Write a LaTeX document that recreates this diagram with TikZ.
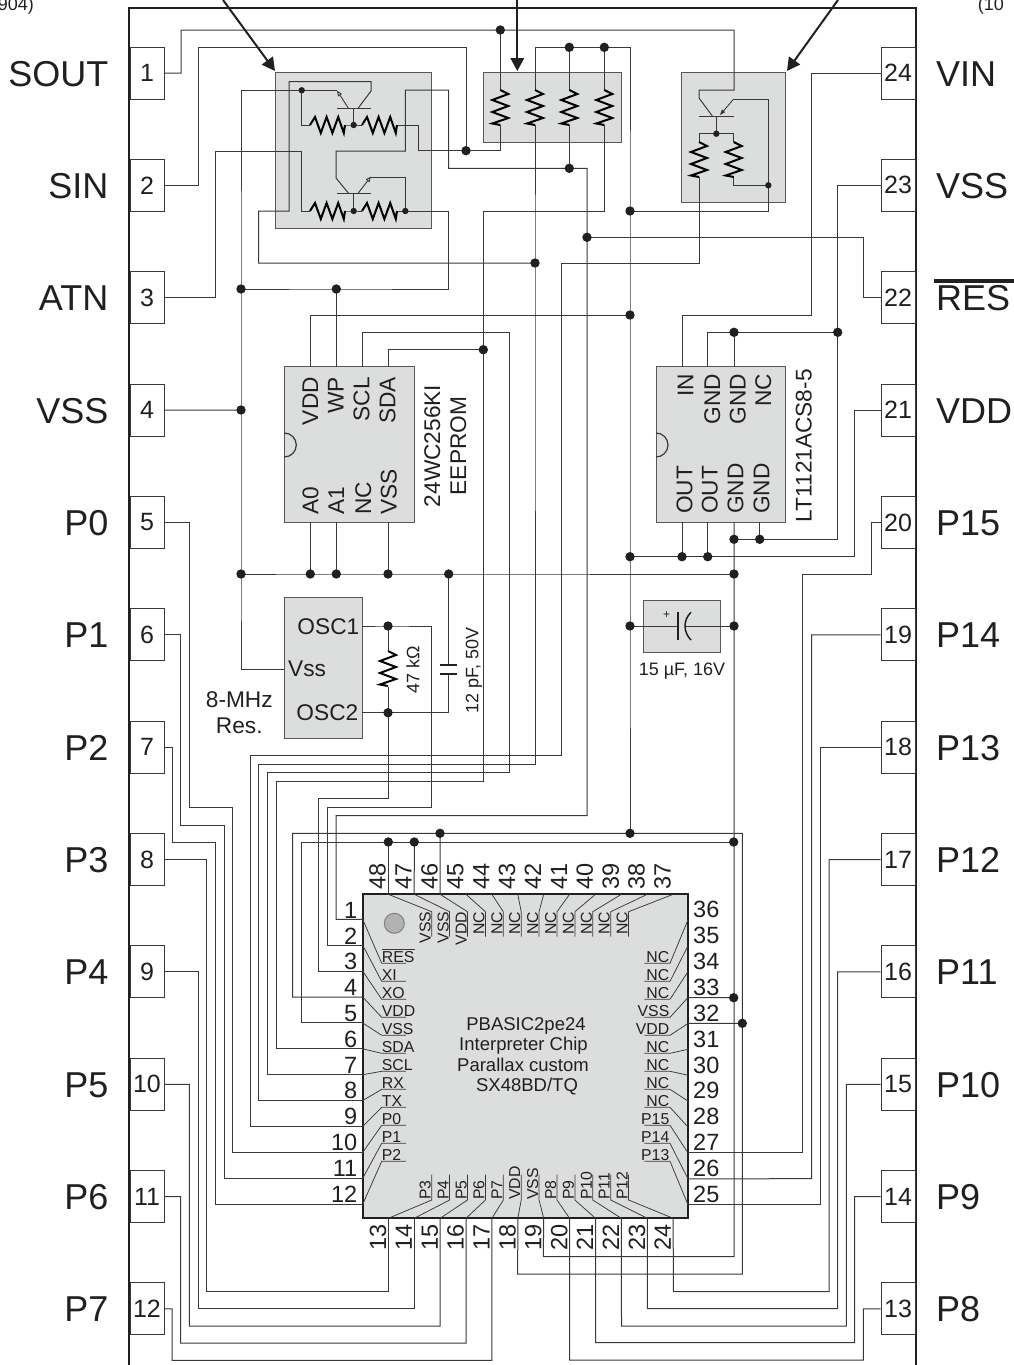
\documentclass[tikz,border=0pt]{standalone}
\usepackage{fontspec}
\setmainfont{Liberation Sans}
\usetikzlibrary{arrows.meta}
\definecolor{ink}{HTML}{231F20}
\definecolor{wirec}{HTML}{3A3838}
\definecolor{graybox}{HTML}{DCDDDD}
\newcommand{\fsz}[1]{\fontsize{#1}{#1}\selectfont}
\newcommand{\jn}[3]{\coordinate (#1) at (#2,#3);}
\newcommand{\hres}[2]{\draw[resist] (#1,#2) -- ++(5,-8) -- ++(5.8,16) -- ++(5.8,-16) -- ++(5.8,16) -- ++(5.8,-16) -- ++(5.6,16) -- ++(1.2,-8);}
\newcommand{\vres}[2]{\draw[resist] (#1,#2) -- ++(8,4) -- ++(-16,6) -- ++(16,6) -- ++(-16,6) -- ++(16,6) -- ++(-16,5.5) -- ++(8,1.5);}
\tikzset{
  wire/.style={draw=wirec,line width=1pt,line join=miter},
  thin wire/.style={draw=wirec,line width=.75pt},
  resist/.style={draw=black,line width=2pt,line join=miter},
  bigarrow/.style={draw=ink,line width=2pt,-{Triangle[length=13pt,width=13.5pt]}},
  emit/.style={draw=wirec,line width=.9pt,-{Triangle[open,length=5.5pt,width=4.5pt]}},
  gbox/.style={draw=wirec!85,fill=graybox,line width=1pt,inner sep=0pt},
  chipbox/.style={draw=ink,fill=graybox,line width=2.2pt,inner sep=0pt},
  pinbox/.style={draw=wirec,fill=white,line width=1pt,minimum width=34pt,minimum height=52pt,inner sep=0pt,text=ink,font=\fsz{25}},
  biglab/.style={inner sep=0pt,text=ink,font=\fsz{36}},
  icl/.style={inner sep=0pt,text=ink,font=\fsz{22.7}},
  cnum/.style={inner sep=0pt,text=ink,font=\fsz{23.5}},
  tiny/.style={inner sep=0pt,text=ink,font=\fsz{15.8}},
  midl/.style={inner sep=0pt,text=ink,font=\fsz{18}},
  corner/.style={inner sep=0pt,text=ink,font=\fsz{18}},
  bigdot/.style={fill=ink,draw=none},
}
\begin{document}
\begin{tikzpicture}[x=1pt,y=-1pt]
\useasboundingbox (0,0) rectangle (1014,1365);
% junctions
\jn{jp1}{500.3}{30}\jn{jp2}{466}{150.7}\jn{jv1}{569.3}{47.3}\jn{jv2}{604.3}{47.3}
\jn{jq}{569.3}{168.3}\jn{jr}{535}{263}\jn{js}{587}{237.3}\jn{jgt}{241}{289}\jn{jwp}{336.3}{289}
\jn{jt4}{241}{410}\jn{jvd}{630}{315}\jn{jsda}{483.3}{349.7}\jn{jg1}{734}{332.3}\jn{jg2}{837.7}{332.3}
\jn{jg3}{734}{539.3}\jn{jg4}{759.7}{539.3}\jn{jo0}{630}{556.7}\jn{jo1}{682}{556.7}\jn{jo2}{707.7}{556.7}
\jn{jb0}{241}{574}\jn{jb1}{310.3}{574}\jn{jb2}{336.3}{574}\jn{jb3}{388}{574}\jn{jb4}{448.7}{574}\jn{jb5}{734}{574}
\jn{jc1}{630}{626}\jn{jc2}{734}{626}\jn{jo3}{388}{626}\jn{jo4}{388}{712.7}\jn{jv}{630}{211}
\jn{jta}{440}{833.3}\jn{jtb}{630}{833.3}\jn{jua}{388.3}{842}\jn{jub}{414.3}{842}\jn{juc}{733.7}{842}
\jn{j33}{733.7}{997.7}\jn{j32}{742.3}{1023.3}
\jn{js1}{301.7}{90.3}\jn{js2}{353.7}{125}\jn{js3}{353.7}{211}\jn{js4}{405.3}{211}\jn{js5}{716.3}{133.7}\jn{js6}{768.3}{185.3}
% frame
\draw[draw=ink,line width=2.8pt] (129,1365) -- (129,8) -- (916,8) -- (916,1365);
% gray boxes
\node[gbox,minimum width=155.6pt,minimum height=156pt] (qa) at (353.5,150.7) {};
\node[gbox,minimum width=138.7pt,minimum height=69.6pt] (rp) at (552.35,107.5) {};
\node[gbox,minimum width=104pt,minimum height=130pt] (qb) at (733.7,137.7) {};
\node[gbox,minimum width=130pt,minimum height=155.6pt] (ee) at (349.3,444.5) {};
\node[gbox,minimum width=129.7pt,minimum height=155.6pt] (lt) at (720.85,444.5) {};
\node[gbox,minimum width=78pt,minimum height=141pt] (os) at (323.3,667.8) {};
\node[gbox,minimum width=77.7pt,minimum height=52pt] (cp) at (681.85,626) {};
\node[chipbox,minimum width=325.3pt,minimum height=324pt] (chip) at (525.35,1056.3) {};
\draw[draw=wirec,line width=1.2pt] (284.3,433) arc[start angle=90,end angle=-90,radius=12pt];
\draw[draw=wirec,line width=1.2pt] (656,433) arc[start angle=90,end angle=-90,radius=12pt];
\draw[draw=gray,fill=black!30,line width=1pt] (394.3,923.3) circle[radius=10pt];
% pin boxes
\foreach \n in {1,...,12}{\node[pinbox] (L\n) at (147,{73+112.36*(\n-1)}) {\n};}
\foreach \n in {13,...,24}{\node[pinbox] (R\n) at (898,{73+112.36*(24-\n)}) {\n};}
% chip pin coordinates
\foreach \n in {1,...,12}{\coordinate (c\n) at (362.7,{919.3+25.9*(\n-1)});}
\foreach \n in {13,...,24}{\coordinate (c\n) at ({388.3+25.9*(\n-13)},1218.3);}
\foreach \n in {25,...,36}{\coordinate (c\n) at (688,{1204.7-25.9*(\n-25)});}
\foreach \n in {37,...,48}{\coordinate (c\n) at ({388.3+25.9*(48-\n)},894.3);}
% wires
\draw[wire] (L1.east) -| (181,30) -- (jp1) -- (734,30) -- (734,90) -- (699,90) -- (699,98) -- (712.3,116);
\draw[wire] (jp1) -- (500.3,90);
\draw[wire] (500.3,125) -- (500.3,150.7) -- (jp2) -- (418.3,150.7) -- (418.3,125) -- (397,125);
\draw[wire] (L2.east) -| (198.3,47.3) -- (466,47.3) -- (jp2);
\draw[wire] (L3.east) -| (215.3,151) -- (301.7,151) -- (301.7,211) -- (310,211);
\draw[wire] (L4.east) -- (jt4);
\draw[wire] (L5.east) -| (189.3,807.3) -- (232.7,807.3) |- (c10);
\draw[wire] (L6.east) -| (180.7,825) -- (224,825) |- (c11);
\draw[wire] (L7.east) -| (172.7,842.3) -- (215.3,842.3) |- (c12);
\draw[wire] (L8.east) -| (206.7,1291) -- (388.3,1291) -- (c13);
\draw[wire] (L9.east) -| (198,1308.7) -- (414.2,1308.7) -- (c14);
\draw[wire] (L10.east) -| (189.3,1326) -- (440.1,1326) -- (c15);
\draw[wire] (L11.east) -| (180.7,1343) -- (466,1343) -- (c16);
\draw[wire] (L12.east) -| (172,1360.3) -- (491.9,1360.3) -- (c17);
\draw[wire] (c1) -| (336,815.7) -- (587,815.7) -- (js) -- (587,168.3) -- (jq) -- (448.7,168.3) -- (448.7,90) -- (405.3,90) -- (405.3,151) -- (336,151) -- (336,178) -- (348.3,193);
\draw[wire] (c2) -| (327.7,807.3) -- (431.5,807.3) -- (431.5,626) -- (jo3) -- (362.3,626);
\draw[wire] (c3) -| (318.7,798.7) -- (388,798.7) -- (jo4) -- (362.3,712.7);
\draw[wire] (c4) -| (292.7,833.3) -- (742.3,833.3) -- (j32) -- (742.3,1274) -- (517.7,1274) -- (c18);
\draw[wire] (c5) -| (301.7,842) -- (juc);
\draw[wire] (734,522.3) -- (jc2) -- (734,1256.7) -- (543.3,1256.7) -- (c19);
\draw[wire] (c6) -| (276,781.3) -- (483.3,781.3) -- (jsda) -- (483.3,211) -- (604.3,211) -- (604.3,125);
\draw[wire] (c7) -| (267.3,772.7) -- (509.3,772.7) -- (509.3,332.3) -- (362,332.3) -- (362,366.7);
\draw[wire] (c8) -| (258.7,764.3) -- (535,764.3) -- (jr) -- (535,125);
\draw[wire] (535,90) -- (535,47.3) -- (jv1) -- (jv2) -- (630,47.3) -- (jv) -- (jvd) -- (jo0) -- (jc1) -- (jtb);
\draw[wire] (c9) -| (250,755.7) -- (561,755.7) -- (561,263) -- (699,263) -- (699,177);
\draw[wire] (jv1) -- (569.3,90);
\draw[wire] (569.3,125) -- (jq);
\draw[wire] (jv2) -- (604.3,90);
\draw[wire] (jv) -- (768.3,211) -- (js6) -- (768.3,99) -- (733.7,99);
\draw[wire] (js6) -- (733.7,185.3) -- (733.7,177);
\draw[wire] (699,142) -- (699,133.7) -- (733.7,133.7) -- (733.7,142);
\draw[wire] (716.3,116) -- (js5);
\draw[wire] (699,116) -- (733.7,116);
\draw[emit,-{Triangle[length=5.5pt,width=4pt]}] (733.7,99) -- (720,115);
\draw[wire] (jvd) -- (310.3,315) -- (310.3,366.7);
\draw[wire] (241,90.3) -- (js1) -- (337,90.3);
\draw[wire] (241,90.3) -- (jgt) -- (jt4) -- (jb0) -- (241,669) -- (284.3,669);
\draw[wire] (js1) -- (301.7,125) -- (310,125);
\draw[wire] (345,125) -- (js2) -- (361.7,125);
\draw[wire] (345,211) -- (js3) -- (361.7,211);
\draw[wire] (397,211) -- (js4);
\draw[wire] (jgt) -- (jwp) -- (448.7,289) -- (448.7,211) -- (js4) -- (405.3,177) -- (371,177);
\draw[wire] (jwp) -- (336.3,366.7);
\draw[wire] (336.7,108) -- (370.7,108);
\draw[wire] (336.7,193) -- (370.7,193);
\draw[wire] (353.7,108) -- (js2);
\draw[wire] (353.7,193) -- (js3);
\draw[emit] (348.3,108) -- (337,90.6);
\draw[emit] (358.3,193) -- (371,176.5);
\draw[wire] (358.3,108) -- (371,91) -- (371,81.7) -- (289,81.7) -- (289,211) -- (258.7,211) -- (258.7,263) -- (jr);
\draw[wire] (jb0) -- (jb1) -- (jb2) -- (jb3) -- (jb4) -- (jb5);
\draw[wire] (310.3,522.3) -- (jb1);
\draw[wire] (336.3,522.3) -- (jb2);
\draw[wire] (388,522.3) -- (jb3);
\draw[wire] (jb4) -- (448.7,664);
\draw[wire] (448.7,674) -- (448.7,712.7) -- (jo4);
\draw[line width=2pt,draw=ink] (440,664.5) -- (457.3,664.5) (440,673.5) -- (457.3,673.5);
\draw[wire] (jo3) -- (388,650.7);
\draw[wire] (388,687) -- (jo4);
\draw[wire] (388,366.7) -- (388,349.7) -- (jsda);
\draw[wire] (R24.west) -| (811.3,315) -- (682,315) -- (682,366.7);
\draw[wire] (R23.west) -| (jg2) -- (837.7,539.3) -- (jg4) -- (jg3);
\draw[wire] (707.7,366.7) -- (707.7,332.3) -- (jg1) -- (jg2);
\draw[wire] (jg1) -- (734,366.7);
\draw[wire] (759.7,522.3) -- (jg4);
\draw[wire] (R22.west) -| (863.3,237.3) -- (js);
\draw[wire] (R21.west) -| (854.3,556.7) -- (jo2) -- (jo1) -- (jo0);
\draw[wire] (682,522.3) -- (jo1);
\draw[wire] (707.7,522.3) -- (jo2);
\draw[wire] (R20.west) -| (871.7,574) -- (802.7,574) |- (c27);
\draw[wire] (R19.west) -| (811.7,1178.7) -- (c26);
\draw[wire] (R18.west) -| (820.3,1204.7) -- (c25);
\draw[wire] (R17.west) -| (829,1291.7) -- (673.3,1291.7) -- (c24);
\draw[wire] (R16.west) -| (837.5,1308.7) -- (647.4,1308.7) -- (c23);
\draw[wire] (R15.west) -| (846.3,1326) -- (621.5,1326) -- (c22);
\draw[wire] (R14.west) -| (854.7,1342.7) -- (595.6,1342.7) -- (c21);
\draw[wire] (R13.west) -| (863.3,1360) -- (569.7,1360) -- (c20);
\draw[wire] (c33) -- (j33);
\draw[wire] (c32) -- (j32);
\draw[wire] (c48) -- (jua);
\draw[wire] (c47) -- (jub);
\draw[wire] (c46) -- (jta);
\draw[wire] (jc1) -- (677.7,626);
\draw[wire] (685,626) -- (jc2);
\draw[line width=1.8pt,draw=ink] (677.7,612.3) -- (677.7,640);
\draw[line width=1.5pt,draw=ink] (691,612.3) .. controls (683,620) and (683,632) .. (691,640);
% resistors
\hres{310}{125}\hres{362}{125}\hres{310}{211}\hres{362}{211}
\vres{500.3}{90}\vres{535}{90}\vres{569.3}{90}\vres{604.3}{90}
\vres{699}{142}\vres{733.7}{142}\vres{388}{651}
% arrows
\coordinate (as1) at (223,0);\coordinate (ae1) at (275,71);
\coordinate (as2) at (517.3,0);\coordinate (ae2) at (517.3,71);
\coordinate (as3) at (838,0);\coordinate (ae3) at (787,71);
\draw[bigarrow] (as1) -- (ae1);
\draw[bigarrow] (as2) -- (ae2);
\draw[bigarrow] (as3) -- (ae3);
% dots
\foreach \d in {jp1,jp2,jv1,jv2,jq,jr,js,jgt,jwp,jt4,jvd,jsda,jg1,jg2,jg3,jg4,jo0,jo1,jo2,jb0,jb1,jb2,jb3,jb4,jb5,jc1,jc2,jo3,jo4,jv,jta,jtb,jua,jub,juc,j33,j32}{\fill[bigdot] (\d) circle[radius=4.7pt];}
\foreach \d in {js1,js2,js3,js4,js5,js6}{\fill[bigdot] (\d) circle[radius=3.2pt];}
% big labels
\foreach \n/\t in {1/SOUT,2/SIN,3/ATN,4/VSS,5/P0,6/P1,7/P2,8/P3,9/P4,10/P5,11/P6,12/P7}{\node[biglab,anchor=base east] (lb\n) at (108.5,{86+112.36*(\n-1)}) {\t};}
\foreach \n/\t in {24/VIN,23/VSS,22/RES,21/VDD,20/P15,19/P14,18/P13,17/P12,16/P11,15/P10,14/P9,13/P8}{\node[biglab,anchor=base west] (rb\n) at (936,{86+112.36*(24-\n)}) {\t};}
\draw[draw=ink,line width=3.6pt] (934,281) -- (1014,281);
\node[corner,anchor=base east] (cl) at (34,10.5) {904)};
\node[corner,anchor=base west] (cr) at (977.7,10.5) {(10};
% EEPROM
\foreach \x/\t in {318/VDD,343.5/WP,369.3/SCL,395.3/SDA}{\node[icl,rotate=90,anchor=base east] (ee\t) at (\x,377) {\t};}
\foreach \x/\t in {318.3/A0,344/A1,371/NC,396.7/VSS}{\node[icl,rotate=90,anchor=base west] (eb\t) at (\x,515) {\t};}
\node[icl,rotate=90,anchor=base] (eea) at (440,446) {24WC256KI};
\node[icl,rotate=90,anchor=base] (eeb) at (466,446) {EEPROM};
% LT1121
\node[icl,rotate=90,anchor=base east] (lta) at (693.3,374) {IN};
\node[icl,rotate=90,anchor=base east] (ltb) at (720,374) {GND};
\node[icl,rotate=90,anchor=base east] (ltc) at (745.7,374) {GND};
\node[icl,rotate=90,anchor=base east] (ltd) at (771,374) {NC};
\node[icl,rotate=90,anchor=base west] (lte) at (692.3,514) {OUT};
\node[icl,rotate=90,anchor=base west] (ltf) at (717.7,514) {OUT};
\node[icl,rotate=90,anchor=base west] (ltg) at (743.3,514) {GND};
\node[icl,rotate=90,anchor=base west] (lth) at (769.3,514) {GND};
\node[icl,rotate=90,anchor=base] (ltn) at (811.7,445.8) {LT1121ACS8-5};
% oscillator
\node[icl,anchor=base east] (oa) at (359.5,634) {OSC1};
\node[icl,anchor=base east] (ob) at (358.5,720) {OSC2};
\node[icl,anchor=base west] (oc) at (288,676.7) {Vss};
\node[icl,anchor=base] (od) at (239.3,707.3) {8-MHz};
\node[icl,anchor=base] (oe) at (239.3,733.3) {Res.};
\node[midl,rotate=90,anchor=base] (oR) at (419.3,670) {47 kΩ};
\node[midl,rotate=90,anchor=base] (oC) at (478.3,670) {12 pF, 50V};
% capacitor
\node[inner sep=0pt,text=ink,font=\fsz{12}] (pl) at (666.7,615) {+};
\node[midl,anchor=base] (cv) at (682,675) {15 µF, 16V};
% chip centre
\node[inner sep=0pt,text=ink,font=\fsz{18.5},anchor=base] (t1) at (526,1030) {PBASIC2pe24};
\node[inner sep=0pt,text=ink,font=\fsz{18.5},anchor=base] (t2) at (523.5,1050.7) {Interpreter Chip};
\node[inner sep=0pt,text=ink,font=\fsz{18.5},anchor=base] (t3) at (523,1071) {Parallax custom};
\node[inner sep=0pt,text=ink,font=\fsz{18.5},anchor=base] (t4) at (527,1091.7) {SX48BD/TQ};
% chip numbers
\foreach \n in {1,...,12}{\node[cnum,anchor=base east] (cn\n) at (357.5,{918.3+25.8*(\n-1)}) {\n};}
\foreach \n in {25,...,36}{\node[cnum,anchor=base west] (cn\n) at (693,{1202.3-25.85*(\n-25)}) {\n};}
\foreach \n in {13,...,24}{\node[cnum,rotate=90,anchor=base east] (cn\n) at ({386+25.9*(\n-13)},1224.5) {\n};}
\foreach \n in {37,...,48}{\node[cnum,rotate=90,anchor=base west] (cn\n) at ({385.7+25.9*(48-\n)},890) {\n};}
% chip inner labels
\foreach \n/\k/\t in {1/0/RES,2/1/XI,3/2/XO,4/3/VDD,5/4/VSS,6/5/SDA,7/6/SCL,8/7/RX,9/8/TX,10/9/P0,11/10/P1,12/11/P2}{
  \pgfmathsetmacro\u{963.3+18*\k}
  \draw[thin wire] (c\n) -- (381.7,\u) -- (406,\u);
  \node[tiny,anchor=base west] (il\n) at (381.7,\u-1) {\t};
}
\draw[thin wire] (381.7,949.3) -- (415,949.3);
\foreach \n/\k/\t in {36/0/NC,35/1/NC,34/2/NC,33/3/VSS,32/4/VDD,31/5/NC,30/6/NC,29/7/NC,28/8/NC,27/9/P15,26/10/P14,25/11/P13}{
  \pgfmathsetmacro\u{963.3+18*\k}
  \draw[thin wire] (c\n) -- (670,\u) -- (644.3,\u);
  \node[tiny,anchor=base east] (il\n) at (669.5,\u-1) {\t};
}
\foreach \n/\k/\t in {48/0/VSS,47/1/VSS,46/2/VDD,45/3/NC,44/4/NC,43/5/NC,42/6/NC,41/7/NC,40/8/NC,39/9/NC,38/10/NC,37/11/NC}{
  \pgfmathsetmacro\u{431.7+17.9*\k}
  \draw[thin wire] (c\n) -- (\u,911.7) -- (\u,936.7);
  \node[tiny,rotate=90,anchor=base east] (il\n) at (\u-1,911.7) {\t};
}
\foreach \n/\k/\t in {13/0/P3,14/1/P4,15/2/P5,16/3/P6,17/4/P7,18/5/VDD,19/6/VSS,20/7/P8,21/8/P9,22/9/P10,23/10/P11,24/11/P12}{
  \pgfmathsetmacro\u{431.7+17.9*\k}
  \draw[thin wire] (c\n) -- (\u,1200) -- (\u,1174.7);
  \node[tiny,rotate=90,anchor=base west] (il\n) at (\u-1,1200) {\t};
}
\end{tikzpicture}
\end{document}
